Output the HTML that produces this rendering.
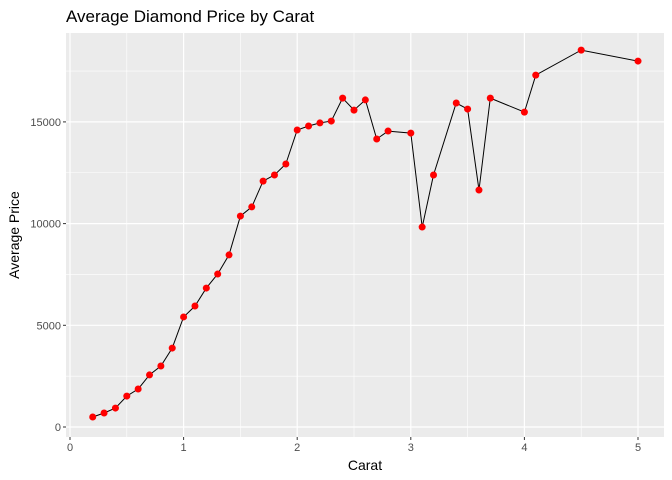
<!DOCTYPE html>
<html><head><meta charset="utf-8"><style>
body{margin:0;background:#fff;}
svg{display:block;font-family:"Liberation Sans",sans-serif;}
</style></head><body>
<svg id="chart" width="672" height="480">
<rect x="0" y="0" width="672" height="480" fill="#fff"/>
<text x="66" y="22" font-size="17" fill="#000">Average Diamond Price by Carat</text>
<rect x="66" y="33" width="598" height="404" fill="#EBEBEB"/>
<g id="grid"></g>
<g id="ticks"></g>
<g id="series"></g>
<text x="365" y="470" font-size="14" text-anchor="middle" fill="#000">Carat</text>
<text transform="translate(19,235) rotate(-90)" font-size="14" text-anchor="middle" fill="#000">Average Price</text>
</svg>
<script>
const carats=[0.2,0.3,0.4,0.5,0.6,0.7,0.8,0.9,1.0,1.1,1.2,1.3,1.4,1.5,1.6,1.7,1.8,1.9,2.0,2.1,2.2,2.3,2.4,2.5,2.6,2.7,2.8,3.0,3.1,3.2,3.4,3.5,3.6,3.7,4.0,4.1,4.5,5.0];
const prices=[490,690,930,1520,1870,2560,3000,3880,5410,5950,6830,7520,8460,10370,10820,12090,12390,12930,14600,14800,14950,15040,16170,15580,16080,14160,14550,14450,9830,12390,15930,15630,11650,16170,15480,17300,18530,17990];
const xTicks=[0,1,2,3,4,5];
const yTicks=[0,5000,10000,15000];
const NS="http://www.w3.org/2000/svg";
const L=66,R=664,T=33,B=437;
function sx(v){return 70+v*113.6;}
function sy(v){return 427-v*101.7/5000;}
function mk(tag,attrs,parent){const e=document.createElementNS(NS,tag);for(const k in attrs)e.setAttribute(k,attrs[k]);parent.appendChild(e);return e;}
const grid=document.getElementById('grid'),ticks=document.getElementById('ticks'),series=document.getElementById('series');
// minor grid
for(let i=0;i<xTicks.length-1;i++){const x=sx((xTicks[i]+xTicks[i+1])/2);
const g=mk('line',{x1:x,x2:x,y1:T,y2:B,stroke:'#fff','stroke-width':0.6},grid);

}
for(let i=0;i<yTicks.length;i++){const y=sy(yTicks[i]+2500);
const g=mk('line',{x1:L,x2:R,y1:y,y2:y,stroke:'#fff','stroke-width':0.6},grid);

}
xTicks.forEach(v=>{const x=sx(v);
const g=mk('line',{x1:x,x2:x,y1:T,y2:B,stroke:'#fff','stroke-width':1.2},grid);


const t=mk('line',{x1:x,x2:x,y1:B,y2:B+3,stroke:'#333','stroke-width':1},ticks);


const l=mk('text',{x:x,y:B+14,'font-size':11,'text-anchor':'middle',fill:'#4D4D4D'},ticks);l.textContent=v;

});
yTicks.forEach(v=>{const y=sy(v);
const g=mk('line',{x1:L,x2:R,y1:y,y2:y,stroke:'#fff','stroke-width':1.2},grid);


const t=mk('line',{x1:L-3,x2:L,y1:y,y2:y,stroke:'#333','stroke-width':1},ticks);


const l=mk('text',{x:L-5,y:y+4,'font-size':11,'text-anchor':'end',fill:'#4D4D4D'},ticks);l.textContent=v;

});
const pts=carats.map((c,i)=>sx(c).toFixed(1)+','+sy(prices[i]).toFixed(1)).join(' ');
const line=mk('polyline',{points:pts,fill:'none',stroke:'#000','stroke-width':1},series);


carats.forEach((c,i)=>{const p=mk('circle',{cx:sx(c),cy:sy(prices[i]),r:3.5,fill:'#FF0000'},series);

});
</script>
</body></html>
